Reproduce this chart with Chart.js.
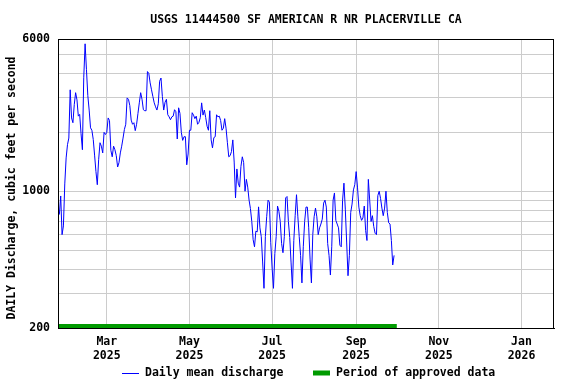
<!DOCTYPE html>
<html>
<head>
<meta charset="utf-8">
<script src="https://cdn.jsdelivr.net/npm/chart.js@4/dist/chart.umd.min.js"></script>
<style>
  html, body { margin: 0; padding: 0; background: #ffffff; }
  #wrap { width: 576px; height: 384px; }
</style>
</head>
<body>
<div id="wrap"><canvas id="c" width="576" height="384"></canvas></div>
<script>
// ---- Data ----
const chartTitle = 'USGS 11444500 SF AMERICAN R NR PLACERVILLE CA';
const yAxisTitle = 'DAILY Discharge, cubic feet per second';
const seriesName = 'Daily mean discharge';
const approvedName = 'Period of approved data';

const firstFlowDate = '2025-01-25';
// daily mean discharge, cubic feet per second (one value per day from firstFlowDate)
const flowJanMar = [760, 946, 600, 665, 1090, 1480, 1730, 1870, 3300, 2370, 2240, 2770, 3190, 2930, 2420, 2470,
  1970, 1630, 3800, 5670, 4180, 3080, 2600, 2110, 2050, 1840, 1530, 1260, 1080, 1450, 1770, 1700, 1570, 2000,
  1950, 2000, 2370, 2300, 1620, 1500, 1700, 1630, 1520, 1330, 1400, 1570, 1700, 1870, 2070, 2200, 3000, 2950,
  2740, 2310, 2200, 2240, 2040, 2200, 2500, 2830, 3190];
const flowMarMay = [2950, 2610, 2580, 2580, 4090, 4000, 3580, 3300, 3050, 2830, 2700, 2600, 2800, 3650, 3790,
  3050, 2600, 2850, 2950, 2460, 2400, 2320, 2400, 2420, 2610, 2550, 1850, 2670, 2500, 2000, 1820, 1900, 1900,
  1365, 1550, 2050, 2050, 2520, 2450, 2350, 2420, 2200, 2250, 2380, 2830, 2450, 2600, 2380, 2150, 2050, 2580,
  1830, 1666, 1880, 1900, 2460, 2400, 2420, 2300, 2050, 2100];
const flowMayJul = [2350, 2100, 1770, 1500, 1520, 1595, 1830, 1410, 925, 1300, 1100, 1050, 1340, 1500, 1400,
  1000, 1150, 1050, 900, 815, 700, 565, 520, 625, 620, 832, 650, 586, 435, 319, 586, 741, 900, 880, 545, 405,
  319, 480, 586, 840, 790, 700, 540, 485, 586, 925, 940, 700, 580, 430, 319, 560, 750, 960, 740, 586, 470, 340,
  520, 700, 830, 830];
const flowJulSep = [650, 450, 340, 600, 741, 820, 740, 600, 650, 680, 720, 870, 900, 830, 540, 470, 373, 520,
  900, 980, 710, 680, 650, 530, 520, 900, 1100, 810, 550, 370, 470, 780, 860, 1016, 1080, 1260, 1050, 830, 750,
  710, 730, 840, 630, 560, 1150, 900, 700, 750, 660, 610, 600, 950, 1000, 920, 820, 750, 820, 1000, 780, 690,
  680, 560, 420, 470];

const approvedStart = '2025-01-24';
const approvedEnd = '2025-10-01';

const axisStart = '2025-01-24';
const axisEnd = '2026-01-25';
const xTickDates = ['2025-03-01', '2025-05-01', '2025-07-01', '2025-09-01', '2025-11-01', '2026-01-01'];
const xTickLabels = [['Mar', '2025'], ['May', '2025'], ['Jul', '2025'], ['Sep', '2025'], ['Nov', '2025'], ['Jan', '2026']];

const yMin = 200, yMax = 6000;
const yGridValues = [200, 300, 400, 500, 600, 700, 800, 900, 1000, 2000, 3000, 4000, 5000, 6000];
const yLabelValues = [200, 1000, 6000];

// ---- helpers ----
const DAY = 86400000;
const epoch = Date.UTC(2025, 0, 1);
function dayNum(s) { const [y, m, d] = s.split('-').map(Number); return (Date.UTC(y, m - 1, d) - epoch) / DAY; }

const flowValues = [].concat(flowJanMar, flowMarMay, flowMayJul, flowJulSep);
const flowStart = dayNum(firstFlowDate);
const flowPoints = flowValues.map((v, i) => ({ x: flowStart + i, y: v }));
const approvedPoints = [{ x: dayNum(approvedStart), y: 204.7 }, { x: dayNum(approvedEnd), y: 204.7 }];
const xTickDays = xTickDates.map(dayNum);

const FONT_FAMILY = "'DejaVu Sans Mono', 'Liberation Mono', monospace";
const FONT_SIZE = 11.5;
const fontSpec = { family: FONT_FAMILY, size: FONT_SIZE, weight: 'bold', lineHeight: 1.2 };
const cssFont = `bold ${FONT_SIZE}px ${FONT_FAMILY}`;

const BLUE = '#0000ff';
const GREEN = '#009a00';

const decorPlugin = {
  id: 'decor',
  afterDraw(chart) {
    const ctx = chart.ctx;
    const a = chart.chartArea;
    ctx.save();
    // frame
    ctx.strokeStyle = '#000000';
    ctx.lineWidth = 1;
    ctx.strokeRect(Math.round(a.left) + 0.5, Math.round(a.top) + 0.5, Math.round(a.right - a.left) - 1, Math.round(a.bottom - a.top));
    // title
    ctx.fillStyle = '#000000';
    ctx.font = cssFont;
    ctx.textAlign = 'center';
    ctx.textBaseline = 'middle';
    ctx.fillText(chartTitle, (a.left + a.right) / 2, 20);
    // y axis title
    ctx.save();
    ctx.translate(12, 188);
    ctx.rotate(-Math.PI / 2);
    ctx.fillText(yAxisTitle, 0, 0);
    ctx.restore();
    // legend
    const ly = 373;
    ctx.textAlign = 'left';
    ctx.strokeStyle = BLUE;
    ctx.lineWidth = 1;
    ctx.beginPath(); ctx.moveTo(122, ly + 0.5); ctx.lineTo(139, ly + 0.5); ctx.stroke();
    ctx.fillText(seriesName, 145, ly);
    ctx.strokeStyle = GREEN;
    ctx.lineWidth = 5;
    ctx.beginPath(); ctx.moveTo(313, ly); ctx.lineTo(330, ly); ctx.stroke();
    ctx.fillText(approvedName, 336, ly);
    ctx.restore();
  }
};

new Chart(document.getElementById('c'), {
  type: 'line',
  data: {
    datasets: [
      { label: seriesName, data: flowPoints, borderColor: BLUE, borderWidth: 1, pointRadius: 0, tension: 0, fill: false },
      { label: approvedName, data: approvedPoints, borderColor: GREEN, borderWidth: 4, pointRadius: 0, fill: false, clip: false, borderCapStyle: 'butt' }
    ]
  },
  options: {
    responsive: false,
    animation: false,
    devicePixelRatio: 1,
    events: [],
    layout: { padding: { left: 0, right: 22, top: 39, bottom: 0 } },
    plugins: { legend: { display: false }, title: { display: false }, tooltip: { enabled: false } },
    scales: {
      x: {
        type: 'linear',
        min: dayNum(axisStart),
        max: dayNum(axisEnd),
        afterBuildTicks: s => { s.ticks = xTickDays.map(v => ({ value: v })); },
        afterFit: s => { s.height = 56; },
        ticks: {
          autoSkip: false, maxRotation: 0, minRotation: 0, padding: 7,
          color: '#000000', font: fontSpec,
          callback: (v, i) => xTickLabels[i]
        },
        grid: { color: '#cccccc', lineWidth: 1, drawTicks: false },
        border: { color: '#000000', width: 1 }
      },
      y: {
        type: 'logarithmic',
        min: yMin,
        max: yMax,
        afterBuildTicks: s => { s.ticks = yGridValues.map(v => ({ value: v })); },
        afterFit: s => { s.width = 58; },
        ticks: {
          autoSkip: false, padding: 8,
          color: '#000000', font: fontSpec,
          callback: v => (yLabelValues.includes(v) ? String(v) : '')
        },
        grid: { color: '#cccccc', lineWidth: 1, drawTicks: false },
        border: { color: '#000000', width: 1 }
      }
    }
  },
  plugins: [decorPlugin]
});
</script>
</body>
</html>
